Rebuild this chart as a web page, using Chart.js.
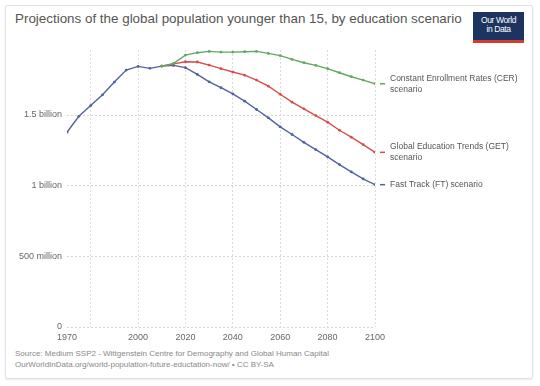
<!DOCTYPE html>
<html><head><meta charset="utf-8">
<script src="https://cdn.jsdelivr.net/npm/chart.js@4"></script>
<style>
html,body{margin:0;padding:0;background:#fff;}
#wrap{position:relative;width:540px;height:386px;overflow:hidden;font-family:"Liberation Sans",Arial,sans-serif;}
#frame{position:absolute;left:5px;top:5px;width:526px;height:372px;border:1px solid #e2e2e2;box-shadow:0 1px 2px rgba(0,0,0,0.08);border-radius:2px;}
#title{position:absolute;left:15px;top:11px;font-size:13.4px;color:#555;white-space:nowrap;}
#logo{position:absolute;left:473px;top:12px;width:51px;height:31px;background:#1d3461;border-bottom:3px solid #d73a31;box-sizing:border-box;color:#fff;font-size:8.5px;line-height:9px;text-align:center;padding-top:4px;letter-spacing:-0.4px;}
#src{position:absolute;left:15px;top:348px;font-size:8px;color:#888;line-height:11px;white-space:nowrap;}
canvas{position:absolute;left:0;top:0;}
</style></head>
<body><div id="wrap">
<div id="frame"></div>
<div id="title">Projections of the global population younger than 15, by education scenario</div>
<div id="logo">Our World<br>in Data</div>
<div id="src">Source: Medium SSP2 - Wittgenstein Centre for Demography and Global Human Capital<br>OurWorldInData.org/world-population-future-eductation-now/ • CC BY-SA</div>
<canvas id="c" width="540" height="386"></canvas>
</div>
<script>
const years = [1970,1975,1980,1985,1990,1995,2000,2005,2010,2015,2020,2025,2030,2035,2040,2045,2050,2055,2060,2065,2070,2075,2080,2085,2090,2095,2100];
const ftValues = [1.378,1.491,1.567,1.643,1.733,1.818,1.844,1.830,1.846,1.851,1.835,1.787,1.735,1.693,1.650,1.598,1.539,1.480,1.416,1.362,1.307,1.255,1.204,1.149,1.097,1.048,1.007];
const cerValues = [null,null,null,null,null,null,null,null,1.846,1.865,1.924,1.941,1.950,1.945,1.945,1.948,1.950,1.936,1.920,1.894,1.870,1.851,1.828,1.799,1.771,1.747,1.721];
const getValues = [null,null,null,null,null,null,null,null,1.846,1.862,1.877,1.875,1.853,1.828,1.804,1.782,1.747,1.704,1.647,1.591,1.544,1.496,1.449,1.392,1.343,1.291,1.236];
const seriesNames = [["Constant Enrollment Rates (CER)","scenario"],["Global Education Trends (GET)","scenario"],["Fast Track (FT) scenario"]];
const xTicks = [1970,1980,2000,2020,2040,2060,2080,2100];
const xTickLabels = ["1970","","2000","2020","2040","2060","2080","2100"];
const yTicks = [0,0.5,1,1.5];
const yTickLabels = ["0","500 million","1 billion","1.5 billion"];

const colors = ["#62a862","#d94c4c","#52629f"];
const toPts = v => years.map((y,i)=>({x:y,y:v[i]}));

const endLabels = {
  id:'endLabels',
  afterDatasetsDraw(chart){
    const ctx = chart.ctx;
    ctx.save();
    ctx.font = '8.5px "Liberation Sans", Arial, sans-serif';
    ctx.textBaseline = 'middle';
    chart.data.datasets.forEach((ds,i)=>{
      const meta = chart.getDatasetMeta(i);
      const p = meta.data[meta.data.length-1];
      ctx.strokeStyle = ds.borderColor; ctx.lineWidth = 1.5;
      ctx.beginPath(); ctx.moveTo(p.x+5,p.y); ctx.lineTo(p.x+10,p.y); ctx.stroke();
      ctx.fillStyle = '#555';
      const lines = seriesNames[i];
      const start = p.y - (lines.length-1)*5.5;
      lines.forEach((t,j)=> ctx.fillText(t, p.x+15, start + j*11));
    });
    ctx.restore();
  }
};

new Chart(document.getElementById('c'), {
  type:'line',
  data:{datasets:[
    {data:toPts(cerValues),borderColor:colors[0],backgroundColor:colors[0]},
    {data:toPts(getValues),borderColor:colors[1],backgroundColor:colors[1]},
    {data:toPts(ftValues),borderColor:colors[2],backgroundColor:colors[2]}
  ]},
  options:{
    responsive:false,animation:false,
    layout:{padding:{left:0,right:165,top:50,bottom:0}},
    elements:{line:{borderWidth:1.4,tension:0},point:{radius:1.4,borderWidth:0}},
    plugins:{legend:{display:false},tooltip:{enabled:false}},
    scales:{
      x:{type:'linear',min:1970,max:2100,
        afterBuildTicks:s=>{s.ticks = xTicks.map(v=>({value:v}));},
        afterFit:s=>{s.height=59;},
        border:{display:false,dash:[2,2]},
        grid:{color:c=>c.tick && c.tick.value===1970?'rgba(0,0,0,0)':'#dcdcdc',lineWidth:1,drawTicks:false},
        ticks:{autoSkip:false,maxRotation:0,padding:5,color:'#666',font:{size:9,family:'"Liberation Sans", Arial, sans-serif'},
          callback:(v)=>{const k=xTicks.indexOf(v);return k>=0?xTickLabels[k]:'';}}
      },
      y:{min:0,max:1.96,
        afterBuildTicks:s=>{s.ticks = yTicks.map(v=>({value:v}));},
        afterFit:s=>{s.width=67;},
        border:{display:false,dash:[2,2]},
        grid:{color:'#d6d6d6',lineWidth:1,drawTicks:false},
        ticks:{padding:5,color:'#666',font:{size:9,family:'"Liberation Sans", Arial, sans-serif'},
          callback:(v)=>{const k=yTicks.indexOf(v);return k>=0?yTickLabels[k]:'';}}
      }
    }
  },
  plugins:[endLabels]
});
</script>
</body></html>
